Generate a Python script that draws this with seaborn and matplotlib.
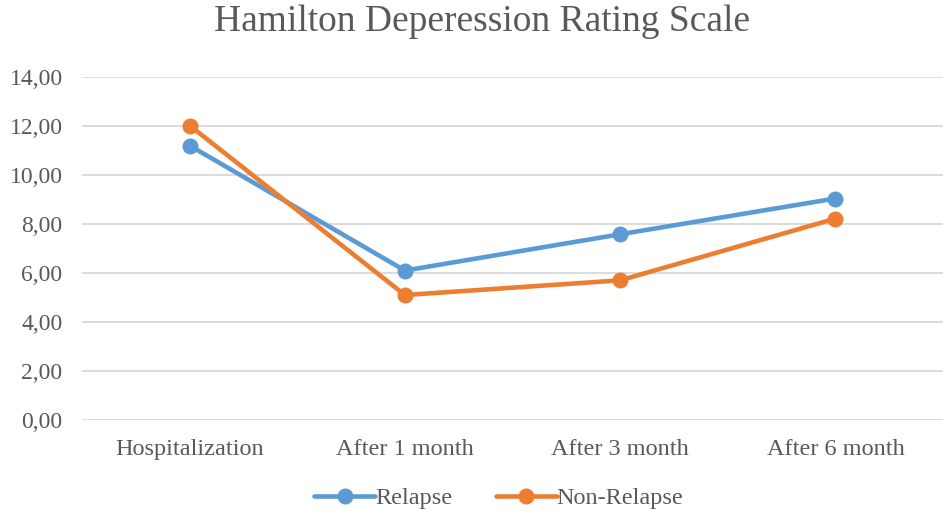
import numpy as np
import pandas as pd
import matplotlib.pyplot as plt
import seaborn as sns
from matplotlib.ticker import FuncFormatter

#values
timepoints = ["Hospitalization", "After 1 month", "After 3 month", "After 6 month"]
relapse = [11.2, 6.1, 7.58, 9.04]
non_relapse = [12.02, 5.1, 5.7, 8.22]

df = pd.DataFrame({
    "time": timepoints * 2,
    "score": relapse + non_relapse,
    "group": ["Relapse"] * 4 + ["Non-Relapse"] * 4,
})

sns.set_style("white")
plt.rcParams['font.family'] = ['Liberation Serif', 'DejaVu Serif']
grey = "#595959"

fig = plt.figure(figsize=(9.43, 5.15), dpi=100)
ax = fig.add_axes([0.087, 0.1845, 0.913, 0.666])

sns.lineplot(data=df, x="time", y="score", hue="group", sort=False,
             palette={"Relapse": "#5B9BD5", "Non-Relapse": "#ED7D31"},
             marker="o", markersize=11.5, markeredgewidth=0, linewidth=3.3,
             ax=ax, zorder=3)

ax.set_xlim(-0.5, 3.5)
ax.set_ylim(0, 14)
ax.set_yticks(np.arange(0, 15, 2))
ax.yaxis.set_major_formatter(FuncFormatter(lambda v, p: f"{v:.2f}".replace(".", ",")))
ax.grid(axis="y", color="#D9D9D9", linewidth=1.3)
ax.set_axisbelow(True)
for s in ax.spines.values():
    s.set_visible(False)
ax.tick_params(axis="x", length=0, labelsize=17.5, labelcolor=grey, pad=14)
ax.tick_params(axis="y", length=0, labelsize=17, labelcolor=grey, pad=14)
ax.set_xlabel("")
ax.set_ylabel("")

fig.text(0.511, 0.957, "Hamilton Deperession Rating Scale", fontsize=27, color=grey,
         ha="center", va="center")

ax.legend(loc="center", ncol=2, frameon=False, fontsize=17.5, labelcolor=grey,
          handlelength=2.5, handletextpad=0.0, columnspacing=1.8)
leg = ax.get_legend()
leg.set_bbox_to_anchor((0.529, 0.033), transform=fig.transFigure)

fig.savefig("out.png", dpi=100)
